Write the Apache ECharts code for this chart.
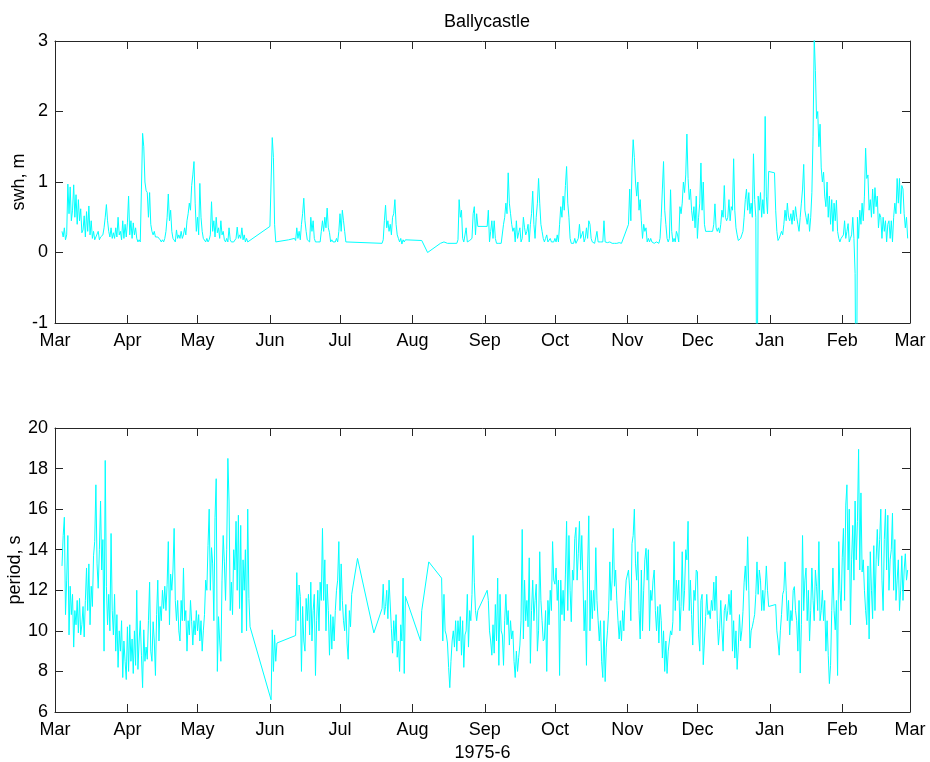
<!DOCTYPE html>
<html>
<head>
<meta charset="utf-8">
<script src="https://cdn.jsdelivr.net/npm/echarts@6/dist/echarts.min.js"></script>
<style>html,body{margin:0;padding:0;background:#fff}#c{width:930px;height:762px}</style>
</head>
<body>
<div id="c"></div>
<script>
const _ = null;
// sampling: half-day steps from 1 Mar 1975 (day 0)
const STEP_DAYS = 0.5;
const monthTicks = [0,31,61,92,122,153,184,214,245,275,306,337,366];
const monthLabels = ['Mar','Apr','May','Jun','Jul','Aug','Sep','Oct','Nov','Dec','Jan','Feb','Mar'];
const swhRange = [-1, 3, 1];
const periodRange = [6, 20, 2];
const titleText = 'Ballycastle';
const swhName = 'swh, m';
const periodName = 'period, s';
const xName = '1975-6';

// significant wave height, m (each row = 5 days)
const swh = [
_,_,_,_,_,_,0.30,0.22,0.35,0.18,
0.25,0.97,0.55,0.93,0.45,0.60,0.96,0.50,0.82,0.40,
0.75,0.45,0.62,0.28,0.32,0.52,0.22,0.58,0.30,0.66,
0.25,0.45,0.20,0.30,0.18,0.22,0.20,0.30,0.18,0.22,
0.20,0.25,0.35,0.50,0.68,0.45,0.30,0.22,0.35,0.20,
0.28,0.20,0.35,0.22,0.50,0.25,0.30,0.18,0.45,0.20,
0.40,0.22,0.42,0.80,0.25,0.45,0.20,0.42,0.25,0.35,
0.20,0.15,0.18,0.15,0.90,1.69,1.50,1.00,0.88,0.85,
0.50,0.85,0.40,0.30,0.25,0.30,0.22,0.20,0.22,0.20,
0.18,0.15,0.18,0.15,0.20,0.30,0.50,0.83,0.45,0.60,
0.30,0.20,0.22,0.15,0.32,0.20,0.25,0.20,0.30,0.20,
0.25,0.35,0.25,0.45,0.55,0.70,0.60,0.95,1.10,1.29,
0.70,0.30,0.50,0.25,0.98,0.50,0.30,0.20,0.18,0.15,
0.20,0.15,0.18,0.25,0.72,0.30,0.45,0.22,0.50,0.28,
0.35,0.20,0.45,0.25,0.30,0.18,0.15,0.20,0.15,0.35,
0.18,0.15,0.15,0.15,0.15,0.20,0.36,0.20,0.25,0.20,
0.35,0.18,0.25,0.15,0.20,0.15,_,_,_,_,
_,_,_,_,_,_,_,_,_,_,
_,_,_,_,0.37,0.38,1.63,1.35,0.40,0.15,
0.15,_,_,_,_,_,_,_,_,_,
0.18,_,_,_,_,0.20,0.17,0.35,0.20,0.30,
0.18,0.40,0.55,0.77,0.45,0.30,0.18,0.20,0.15,0.50,
0.30,0.45,0.20,0.15,0.15,0.15,0.16,0.15,0.30,0.45,
0.30,0.50,0.35,0.63,0.35,0.28,0.15,0.18,0.15,0.17,
0.15,0.20,0.15,0.30,0.55,0.30,0.60,0.45,0.30,0.15,
0.13,_,_,_,_,_,_,_,_,_,
_,_,_,_,_,_,_,_,_,_,
_,_,_,_,_,_,_,_,_,_,
0.13,0.18,0.45,0.67,0.35,0.45,0.30,0.40,0.25,0.50,
0.55,0.75,0.40,0.25,0.20,0.15,0.20,0.12,0.18,0.15,
0.18,_,_,_,_,_,_,_,_,_,
_,_,_,_,0.17,_,_,_,_,0.00,
_,_,_,_,_,_,_,_,_,_,
0.13,_,_,0.15,_,_,0.13,_,_,_,
_,_,_,_,0.13,0.18,0.75,0.50,0.60,0.20,
0.15,0.15,0.35,0.15,0.15,0.17,0.15,0.20,0.55,0.65,
0.25,0.55,0.37,_,_,_,_,_,_,_,
0.37,0.60,0.15,0.30,0.45,0.20,0.45,0.20,0.13,0.13,
0.13,0.13,0.13,0.13,0.40,0.50,0.70,0.55,1.13,0.70,
0.55,0.40,0.30,0.35,0.15,0.45,0.20,0.28,0.35,0.15,
0.20,0.50,0.35,0.25,0.30,0.40,0.15,0.40,0.55,0.87,
0.40,0.20,0.50,0.70,1.05,0.70,0.40,0.30,0.20,0.15,
0.20,0.25,0.15,0.13,0.20,0.15,0.13,0.15,0.20,0.15,
0.25,0.15,0.40,0.65,0.50,0.80,0.60,0.95,1.22,0.70,
0.50,0.20,0.13,0.15,0.13,0.20,0.13,0.15,0.20,0.40,
0.20,0.25,0.30,0.15,0.20,0.35,0.20,0.45,0.40,0.20,
0.15,0.13,0.13,0.15,0.30,0.15,0.13,0.15,0.13,0.15,
0.45,0.15,0.13,0.14,0.13,0.15,0.17,0.13,0.15,0.13,
0.14,0.13,0.13,0.14,0.13,0.13,0.13,_,_,_,
_,0.40,0.90,0.45,1.20,1.60,1.35,1.00,0.80,1.00,
0.60,0.75,0.45,0.20,0.40,0.30,0.35,0.15,0.20,0.15,
0.20,0.15,0.15,0.13,0.13,0.15,0.13,0.13,0.20,0.50,
0.90,1.29,0.60,0.40,0.20,0.15,0.20,0.89,0.30,0.15,
0.20,0.15,0.30,0.25,0.15,0.65,0.55,0.70,1.00,0.85,
1.10,1.68,1.05,0.75,0.90,0.60,0.45,0.65,0.35,0.80,
0.20,0.50,0.70,1.27,0.60,1.00,0.40,0.30,0.32,0.30,
0.30,0.30,0.28,0.30,0.40,0.69,0.35,0.30,0.35,0.28,
0.40,0.60,0.50,0.95,0.50,0.45,0.50,0.75,0.45,0.65,
0.60,1.33,0.60,0.35,0.25,0.17,0.17,0.20,0.25,0.30,
0.50,0.75,0.90,0.60,0.85,0.55,0.70,0.50,1.40,0.75,
0.50,-3.00,0.80,0.60,0.85,0.50,0.75,0.55,1.93,0.80,
0.55,1.15,1.14,_,_,_,1.13,0.60,0.30,0.17,
0.20,0.25,0.30,0.25,0.40,0.60,0.45,0.70,0.50,0.45,
0.55,0.40,0.60,0.45,0.65,0.50,0.40,0.30,0.50,0.70,
0.90,1.25,0.60,0.50,0.40,0.55,0.30,0.50,0.85,1.65,
3.05,2.58,1.90,2.00,1.50,1.82,1.20,1.00,1.14,0.80,
0.65,1.00,0.50,0.80,0.40,0.75,0.30,0.70,0.45,0.74,
0.30,0.20,0.15,0.20,0.18,0.25,0.45,0.20,0.30,0.41,
0.15,0.20,0.25,0.50,0.20,-0.30,-3.00,0.50,0.20,0.60,
0.40,0.70,0.45,0.80,1.48,1.05,1.10,0.60,0.75,0.50,
0.90,0.55,0.92,0.65,0.80,0.35,0.55,0.50,0.20,0.50,
0.30,0.45,0.15,0.40,0.45,0.20,0.45,0.15,0.50,0.70,
0.55,1.05,0.70,1.05,0.55,0.95,0.90,0.55,0.35,0.50,
0.20
];

// wave period, s (each row = 5 days)
const period = [
_,_,_,_,_,_,13.2,14.7,15.6,10.8,
12.5,14.7,9.8,12.2,10.8,11.8,9.2,11.0,10.3,11.5,
9.9,11.6,9.8,10.3,11.2,9.7,11.5,13.1,11.0,13.3,
10.3,12.2,11.2,13.7,14.4,17.2,13.3,12.1,14.0,16.4,
13.0,14.5,9.0,18.4,12.2,10.3,11.8,10.0,14.8,11.0,
9.8,11.8,9.0,10.8,8.2,10.0,9.0,10.5,7.7,9.5,
8.5,7.6,10.2,8.0,10.3,8.5,9.6,7.9,10.0,8.3,
12.0,8.1,9.5,10.5,8.8,7.2,10.05,8.5,9.2,8.6,
10.5,12.4,9.0,8.5,10.45,9.5,7.8,10.8,12.5,9.5,
11.2,10.5,12.0,11.1,12.2,11.0,12.3,14.4,10.3,12.8,
12.0,13.0,15.05,11.5,10.5,11.5,10.0,9.5,11.5,10.5,
13.1,10.5,11.0,9.0,10.5,9.8,11.5,10.45,9.3,10.5,
9.8,11.0,10.0,10.8,9.5,10.5,9.0,10.0,10.8,12.5,
12.0,14.2,16.0,12.0,14.1,13.3,10.5,15.6,17.5,8.0,
10.7,9.5,8.5,12.5,14.7,13.4,11.5,14.0,18.5,16.4,
11.0,12.4,10.8,14.0,13.0,15.4,12.0,15.7,11.1,15.2,
9.9,13.5,12.0,14.0,10.0,16.0,11.6,10.2,_,_,
_,_,_,_,_,_,_,_,_,_,
_,_,_,_,_,6.6,10.05,8.0,9.8,8.5,
9.4,_,_,_,_,_,_,_,_,_,
_,_,_,_,_,_,9.77,12.87,10.5,12.26,
11.7,8.0,11.2,9.5,9.0,11.6,10.5,11.8,9.8,12.4,
9.5,11.0,11.8,7.8,10.5,12.0,10.0,12.4,11.5,15.05,
11.5,13.5,10.0,12.3,11.0,8.8,10.8,9.1,10.7,9.5,
11.0,12.0,12.5,14.4,11.0,13.3,11.5,10.5,10.0,11.3,
9.4,8.6,11.0,10.2,11.8,_,_,_,_,13.57,
_,_,_,_,_,_,_,_,_,_,
_,_,_,9.9,_,_,_,_,_,_,
11.1,12.3,10.8,11.2,12.0,10.6,12.5,12.5,10.1,8.9,
10.5,9.5,10.8,8.7,9.5,8.0,10.3,9.5,12.6,7.9,
11.7,_,_,_,_,_,_,_,_,_,
_,_,_,9.5,11.0,_,_,_,_,_,
13.4,_,_,_,_,_,_,_,_,_,
_,12.6,9.5,11.8,10.0,9.8,9.4,8.2,7.2,8.5,
9.5,10.0,9.2,10.5,9.0,10.5,9.5,10.7,8.8,10.5,
8.2,9.8,10.0,11.8,9.2,11.0,10.5,11.8,14.7,12.4,
11.0,10.5,11.0,_,_,_,_,_,_,_,
12.0,11.5,10.0,9.5,8.8,10.3,8.9,11.3,9.5,12.6,
8.3,11.8,10.0,9.8,8.3,10.5,11.8,10.3,11.0,9.3,
10.5,9.6,10.0,8.5,7.7,9.0,8.0,8.7,9.3,10.5,
15.0,9.6,12.5,10.5,11.5,10.2,13.6,8.4,11.0,12.5,
10.5,11.5,12.3,9.0,10.0,13.9,11.5,10.5,9.5,9.6,
11.0,8.0,11.5,10.3,12.0,11.0,14.4,12.5,12.3,13.1,
11.5,12.5,7.8,12.5,10.8,12.0,10.5,12.8,15.4,11.0,
14.7,12.0,10.45,13.0,12.5,14.56,15.1,12.5,13.8,15.4,
13.0,14.7,12.5,10.0,11.5,8.3,13.0,15.67,10.0,12.0,
10.6,12.0,11.0,14.1,11.5,10.5,9.5,10.5,8.5,7.7,
10.5,7.5,9.2,10.0,11.0,13.4,11.5,12.5,15.05,12.2,
13.0,11.5,10.5,9.6,10.5,9.5,11.0,10.0,11.5,12.5,
12.5,13.0,12.0,10.5,14.3,14.7,16.0,13.3,12.5,13.9,
11.0,9.6,13.0,10.0,12.0,13.5,14.07,12.5,14.0,10.0,
12.0,11.5,12.5,13.0,11.0,10.0,11.2,9.4,11.3,10.5,
8.66,10.0,8.0,9.5,7.9,9.0,9.5,10.0,9.8,10.45,
14.4,11.0,12.5,11.5,12.5,10.0,11.2,13.9,11.0,12.0,
14.0,13.5,15.4,11.0,12.5,10.8,9.3,12.0,11.5,13.0,
12.9,9.8,9.0,11.5,11.8,8.33,9.5,10.7,11.8,10.8,
11.0,10.6,11.5,11.0,12.4,11.0,12.7,10.5,9.3,10.1,
11.5,10.0,9.0,11.0,11.3,10.5,11.0,11.8,10.8,12.0,
9.0,10.5,8.66,10.0,8.1,9.2,10.8,9.5,10.0,10.95,
12.4,13.2,12.0,14.64,12.0,9.15,10.0,10.2,10.5,10.8,
11.8,13.4,11.8,13.0,12.5,11.0,12.0,11.0,12.0,13.2,
12.0,11.2,11.25,_,_,_,_,11.3,10.0,9.5,
8.8,10.0,10.8,11.8,12.0,13.4,12.0,10.5,11.5,9.8,
11.0,10.5,12.0,12.18,11.0,10.5,9.0,11.5,7.92,10.3,
14.7,11.0,12.5,13.1,10.5,12.0,9.5,11.0,13.1,11.5,
10.5,13.0,12.2,11.0,14.4,10.5,11.0,12.0,10.5,11.5,
9.0,10.5,8.8,7.4,8.3,11.0,13.1,11.0,10.05,11.5,
7.8,14.4,12.0,11.0,13.6,15.05,11.5,16.2,17.2,13.0,
16.0,10.3,13.5,15.2,12.5,16.4,13.5,15.4,18.95,13.0,
16.8,12.9,13.5,12.0,11.0,10.3,13.2,9.6,13.9,12.0,
10.6,14.2,11.0,13.5,15.0,13.2,14.5,16.0,12.5,11.0,
14.5,16.0,13.0,15.7,12.0,13.5,14.0,15.8,12.0,14.5,
11.5,12.5,13.5,11.0,12.0,13.7,11.5,13.0,13.8,12.5,
13.0
];

function toPoints(vals) {
  const out = [];
  vals.forEach((v, i) => { if (v !== null) out.push([i * STEP_DAYS, v]); });
  return out;
}

const FONT = '"Liberation Sans", Arial, Helvetica, sans-serif';
const AX = '#262626';
const FS = 18;

function xAxisCfg(gridIndex, pos, withLabels, name) {
  return {
    type: 'value', gridIndex, position: pos,
    min: monthTicks[0], max: monthTicks[monthTicks.length - 1],
    axisLine: { show: true, onZero: false, lineStyle: { color: AX, width: 1 } },
    axisTick: { show: true, inside: true, length: 8, customValues: monthTicks, lineStyle: { color: AX } },
    axisLabel: withLabels ? {
      show: true, customValues: monthTicks, margin: 9, color: '#000', fontSize: FS, fontFamily: FONT,
      formatter: v => monthLabels[monthTicks.indexOf(v)] || ''
    } : { show: false },
    splitLine: { show: false },
    name: name || '', nameLocation: 'middle', nameGap: 32,
    nameTextStyle: { color: '#000', fontSize: FS, fontFamily: FONT }
  };
}
function yAxisCfg(gridIndex, pos, range, withLabels, name, gap) {
  return {
    type: 'value', gridIndex, position: pos,
    min: range[0], max: range[1], interval: range[2],
    axisLine: { show: true, onZero: false, lineStyle: { color: AX, width: 1 } },
    axisTick: { show: true, inside: true, length: 8, lineStyle: { color: AX } },
    axisLabel: withLabels ? { show: true, margin: 7, color: '#000', fontSize: FS, fontFamily: FONT } : { show: false },
    splitLine: { show: false },
    name: name || '', nameLocation: 'middle', nameGap: gap || 27, nameMoveOverlap: false,
    nameTextStyle: { color: '#000', fontSize: FS, fontFamily: FONT }
  };
}

const chart = echarts.init(document.getElementById('c'), null, { renderer: 'canvas' });
chart.setOption({
  animation: false,
  backgroundColor: '#fff',
  title: {
    text: titleText, left: 482, top: 8, textAlign: 'center',
    textStyle: { fontSize: FS, fontWeight: 'normal', color: '#000', fontFamily: FONT }
  },
  grid: [
    { left: 55, top: 41, width: 855, height: 282, outerBoundsMode: 'none', containLabel: false },
    { left: 55, top: 428, width: 855, height: 284, outerBoundsMode: 'none', containLabel: false }
  ],
  xAxis: [
    xAxisCfg(0, 'bottom', true),
    xAxisCfg(0, 'top', false),
    xAxisCfg(1, 'bottom', true, xName),
    xAxisCfg(1, 'top', false)
  ],
  yAxis: [
    yAxisCfg(0, 'left', swhRange, true, swhName, 27),
    yAxisCfg(0, 'right', swhRange, false),
    yAxisCfg(1, 'left', periodRange, true, periodName, 31),
    yAxisCfg(1, 'right', periodRange, false)
  ],
  series: [
    { type: 'line', xAxisIndex: 0, yAxisIndex: 0, data: toPoints(swh), showSymbol: false, clip: true,
      lineStyle: { color: '#00ffff', width: 1 }, itemStyle: { color: '#00ffff' } },
    { type: 'line', xAxisIndex: 2, yAxisIndex: 2, data: toPoints(period), showSymbol: false, clip: true,
      lineStyle: { color: '#00ffff', width: 1 }, itemStyle: { color: '#00ffff' } }
  ]
});
</script>
</body>
</html>
